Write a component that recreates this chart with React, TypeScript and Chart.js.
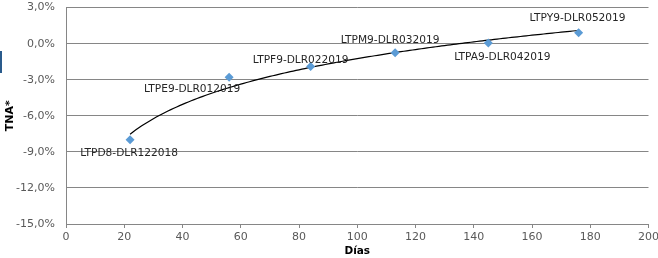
import React, { useEffect, useRef } from "react";
import { Chart, registerables } from "chart.js";

Chart.register(...registerables);

const bondNames = [
  "LTPD8-DLR122018",
  "LTPE9-DLR012019",
  "LTPF9-DLR022019",
  "LTPM9-DLR032019",
  "LTPA9-DLR042019",
  "LTPY9-DLR052019",
];
const days = [22, 56, 84, 113, 145, 176];
const tna = [-8.0, -2.8, -1.9, -0.75, 0.05, 0.9];

const xTickMin = 0;
const xTickMax = 200;
const xTickStep = 20;
const yTickMin = -15;
const yTickMax = 3;
const yTickStep = 3;

// label offsets (dx, dy) relative to each point, in px
const labelOffsets: [number, number][] = [
  [-1, 13],
  [-37, 12],
  [-10, -6],
  [-5, -12],
  [14, 14],
  [-1, -15],
];

// logarithmic least-squares trendline, as Excel draws it
function logFit(xs: number[], ys: number[]) {
  const lx = xs.map((v) => Math.log(v));
  const n = xs.length;
  const mx = lx.reduce((a, b) => a + b, 0) / n;
  const my = ys.reduce((a, b) => a + b, 0) / n;
  let sxy = 0;
  let sxx = 0;
  for (let i = 0; i < n; i++) {
    sxy += (lx[i] - mx) * (ys[i] - my);
    sxx += (lx[i] - mx) * (lx[i] - mx);
  }
  const b = sxy / sxx;
  const a = my - b * mx;
  return (x: number) => a + b * Math.log(x);
}

const fit = logFit(days, tna);
const trendPoints: { x: number; y: number }[] = [];
for (let x = days[0]; x <= days[days.length - 1]; x += 1) {
  trendPoints.push({ x, y: fit(x) });
}

const FONT = "'DejaVu Sans', sans-serif";

const labelPlugin = {
  id: "pointLabels",
  afterDatasetsDraw(chart: any) {
    const meta = chart.getDatasetMeta(0);
    const ctx = chart.ctx;
    ctx.save();
    ctx.font = `10.6px ${FONT}`;
    ctx.fillStyle = "#262626";
    ctx.textAlign = "center";
    ctx.textBaseline = "middle";
    meta.data.forEach((pt: any, i: number) => {
      const [dx, dy] = labelOffsets[i];
      ctx.fillText(bondNames[i], pt.x + dx, pt.y + dy);
    });
    ctx.restore();
  },
};

export default function App() {
  const ref = useRef<HTMLCanvasElement | null>(null);

  useEffect(() => {
    document.body.style.margin = "0";
    const chart = new Chart(ref.current as HTMLCanvasElement, {
      type: "scatter",
      data: {
        datasets: [
          {
            label: "TNA",
            data: days.map((d, i) => ({ x: d, y: tna[i] })),
            pointStyle: "rectRot",
            pointRadius: 4.5,
            pointHoverRadius: 4.5,
            backgroundColor: "#5B9BD5",
            borderColor: "#5B9BD5",
            borderWidth: 0,
            showLine: false,
            order: 1,
          },
          {
            label: "trend",
            data: trendPoints,
            showLine: true,
            borderColor: "#000000",
            borderWidth: 1.2,
            pointRadius: 0,
            fill: false,
            tension: 0,
            order: 2,
          },
        ],
      },
      options: {
        animation: false,
        responsive: true,
        maintainAspectRatio: false,
        layout: { padding: { top: 7, right: 6, left: 0, bottom: 0 } },
        plugins: {
          legend: { display: false },
          tooltip: { enabled: false },
          title: { display: false },
        },
        scales: {
          x: {
            type: "linear",
            min: xTickMin,
            max: xTickMax,
            ticks: {
              stepSize: xTickStep,
              color: "#595959",
              font: { family: FONT, size: 11 },
              padding: 3,
              maxRotation: 0,
            },
            grid: {
              drawOnChartArea: false,
              drawTicks: true,
              tickLength: 4,
              color: "#868686",
            },
            border: { color: "#868686", width: 1 },
            title: {
              display: true,
              text: "Días",
              color: "#000000",
              font: { family: FONT, size: 10.5, weight: "bold" },
              padding: { top: 1, bottom: 0 },
            },
            afterFit(scale: any) {
              scale.height = 34;
            },
          },
          y: {
            type: "linear",
            min: yTickMin,
            max: yTickMax,
            ticks: {
              stepSize: yTickStep,
              color: "#595959",
              font: { family: FONT, size: 11 },
              padding: 11,
              callback: (v: any) => Number(v).toFixed(1).replace(".", ",") + "%",
            },
            grid: {
              drawTicks: false,
              color: "#868686",
              lineWidth: 1,
            },
            border: { color: "#868686", width: 1 },
            title: {
              display: true,
              text: "TNA*",
              color: "#000000",
              font: { family: FONT, size: 11, weight: "bold" },
              padding: { top: 4, bottom: 4 },
            },
            afterFit(scale: any) {
              scale.width = 66;
            },
          },
        },
      },
      plugins: [labelPlugin],
    });
    return () => chart.destroy();
  }, []);

  return (
    <div style={{ position: "fixed", left: 0, top: 0, width: 658, height: 258, overflow: "hidden", background: "#fff" }}>
      <div style={{ position: "absolute", left: 0, top: -10, width: 662, height: 268 }}>
        <canvas ref={ref} />
      </div>
      <div
        style={{
          position: "absolute",
          left: 0,
          top: 51,
          width: 2,
          height: 22,
          background: "#2A5B8C",
        }}
      />
    </div>
  );
}
